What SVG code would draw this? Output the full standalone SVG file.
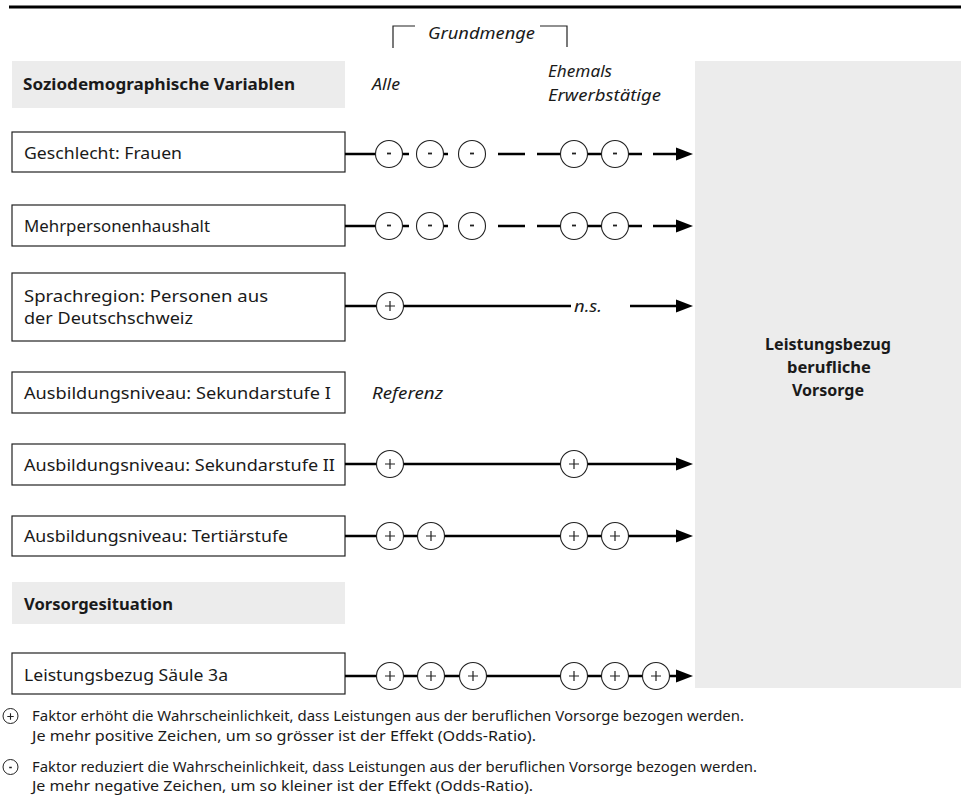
<svg xmlns="http://www.w3.org/2000/svg" width="961" height="796" viewBox="0 0 961 796">
<defs>
<style>
text{font-family:"Noto Sans","Liberation Sans",Arial,sans-serif;fill:#1a1a1a}
.lbl{font-size:17px}
.b{font-size:16.5px;font-weight:bold}
.it{font-size:16.5px;font-style:italic}
.leg{font-size:14.5px}
.box{fill:#fff;stroke:#222;stroke-width:1.2}
.gray{fill:#ececec}
.ln{stroke:#000;stroke-width:2.6;fill:none}
.c{fill:#fff;stroke:#222;stroke-width:1.1}
</style>
<g id="pl"><circle class="c" cx="0" cy="0" r="13.5"/><path d="M-5 0H5M0 -5V5" stroke="#222" stroke-width="1.2"/></g>
<g id="mi"><circle class="c" cx="0" cy="0" r="13.5"/><path d="M-2 -0.5H2" stroke="#222" stroke-width="1.8"/></g>
<g id="ah"><polygon points="-17,-6.5 0,0 -17,6.5" fill="#000"/></g>
</defs>
<rect width="961" height="796" fill="#fff"/>
<line x1="9" y1="7" x2="961" y2="7" stroke="#000" stroke-width="3"/>

<g id="grundmenge">
<path d="M415 26H393V48" fill="none" stroke="#222" stroke-width="1.2"/>
<path d="M540 26H567V47" fill="none" stroke="#222" stroke-width="1.2"/>
<text class="it" x="428" y="39" textLength="107" lengthAdjust="spacingAndGlyphs">Grundmenge</text>
<text class="it" x="372" y="90" textLength="28" lengthAdjust="spacingAndGlyphs">Alle</text>
<text class="it" x="548" y="77" textLength="64" lengthAdjust="spacingAndGlyphs">Ehemals</text>
<text class="it" x="548" y="101" textLength="113" lengthAdjust="spacingAndGlyphs">Erwerbstätige</text>
</g>

<g id="target">
<rect class="gray" x="695" y="61" width="266" height="627"/>
<text class="b" x="828" y="350" text-anchor="middle" textLength="126" lengthAdjust="spacingAndGlyphs">Leistungsbezug</text>
<text class="b" x="829" y="373" text-anchor="middle" textLength="84" lengthAdjust="spacingAndGlyphs">berufliche</text>
<text class="b" x="828" y="396" text-anchor="middle" textLength="72" lengthAdjust="spacingAndGlyphs">Vorsorge</text>
</g>

<g id="hdr1"><rect class="gray" x="12" y="61" width="333" height="47"/><text class="b" x="23" y="90" textLength="272" lengthAdjust="spacingAndGlyphs">Soziodemographische Variablen</text></g>
<g id="n-geschlecht"><rect class="box" x="12" y="132" width="333" height="40"/><text class="lbl" x="24" y="159" textLength="158" lengthAdjust="spacingAndGlyphs">Geschlecht: Frauen</text></g>
<g id="n-mehr"><rect class="box" x="12" y="205" width="333" height="41"/><text class="lbl" x="24" y="232" textLength="186" lengthAdjust="spacingAndGlyphs">Mehrpersonenhaushalt</text></g>
<g id="n-sprach"><rect class="box" x="12" y="273" width="333" height="68"/><text class="lbl" x="24" y="302" textLength="244" lengthAdjust="spacingAndGlyphs">Sprachregion: Personen aus</text><text class="lbl" x="24" y="324" textLength="169" lengthAdjust="spacingAndGlyphs">der Deutschschweiz</text></g>
<g id="n-sek1"><rect class="box" x="12" y="372" width="333" height="41"/><text class="lbl" x="24" y="399" textLength="307" lengthAdjust="spacingAndGlyphs">Ausbildungsniveau: Sekundarstufe I</text><text class="it" x="372" y="399" textLength="71" lengthAdjust="spacingAndGlyphs">Referenz</text></g>
<g id="n-sek2"><rect class="box" x="12" y="444" width="333" height="41"/><text class="lbl" x="24" y="471" textLength="311" lengthAdjust="spacingAndGlyphs">Ausbildungsniveau: Sekundarstufe II</text></g>
<g id="n-tert"><rect class="box" x="12" y="516" width="333" height="40"/><text class="lbl" x="24" y="542" textLength="264" lengthAdjust="spacingAndGlyphs">Ausbildungsniveau: Tertiärstufe</text></g>
<g id="hdr2"><rect class="gray" x="12" y="582" width="333" height="42"/><text class="b" x="24" y="610" textLength="149" lengthAdjust="spacingAndGlyphs">Vorsorgesituation</text></g>
<g id="n-saeule"><rect class="box" x="12" y="653" width="333" height="41"/><text class="lbl" x="24" y="681" textLength="204" lengthAdjust="spacingAndGlyphs">Leistungsbezug Säule 3a</text></g>

<g id="connectors">
<path class="ln" d="M345 154H377M402 154H409M442 154H448M498 154H525M537 154H561M587 154H603M627 154H642M653 154H678"/>
<use href="#ah" x="693" y="154"/>
<use href="#mi" x="389" y="154"/><use href="#mi" x="430" y="154"/><use href="#mi" x="472" y="154"/><use href="#mi" x="574" y="154"/><use href="#mi" x="615" y="154"/>
<path class="ln" d="M345 226H377M402 226H409M442 226H448M498 226H525M537 226H561M587 226H603M627 226H642M653 226H678"/>
<use href="#ah" x="693" y="226"/>
<use href="#mi" x="389" y="226"/><use href="#mi" x="430" y="226"/><use href="#mi" x="472" y="226"/><use href="#mi" x="574" y="226"/><use href="#mi" x="615" y="226"/>
<path class="ln" d="M345 306H378M403 306H571M630 306H678"/>
<use href="#ah" x="693" y="306"/>
<use href="#pl" x="390" y="306"/>
<text class="it" x="574" y="312" textLength="28" lengthAdjust="spacingAndGlyphs">n.s.</text>
<path class="ln" d="M345 464H678"/>
<use href="#ah" x="693" y="464"/>
<use href="#pl" x="390" y="464"/><use href="#pl" x="574" y="464"/>
<path class="ln" d="M345 536H678"/>
<use href="#ah" x="693" y="536"/>
<use href="#pl" x="390" y="536"/><use href="#pl" x="431" y="536"/><use href="#pl" x="574" y="536"/><use href="#pl" x="615" y="536"/>
<path class="ln" d="M345 676H678"/>
<use href="#ah" x="693" y="676"/>
<use href="#pl" x="390" y="676"/><use href="#pl" x="431" y="676"/><use href="#pl" x="473" y="676"/><use href="#pl" x="574" y="676"/><use href="#pl" x="615" y="676"/><use href="#pl" x="656" y="676"/>
</g>

<g id="legend">
<circle cx="10.5" cy="716" r="7.5" fill="#fff" stroke="#222" stroke-width="1"/>
<path d="M7.3 716.5H13.7M10.5 713.3V719.7" stroke="#222" stroke-width="1.1"/>
<text class="leg" x="32" y="721" textLength="712" lengthAdjust="spacingAndGlyphs">Faktor erhöht die Wahrscheinlichkeit, dass Leistungen aus der beruflichen Vorsorge bezogen werden.</text>
<text class="leg" x="32" y="741" textLength="504" lengthAdjust="spacingAndGlyphs">Je mehr positive Zeichen, um so grösser ist der Effekt (Odds-Ratio).</text>
<circle cx="10.5" cy="767" r="7.5" fill="#fff" stroke="#222" stroke-width="1"/>
<path d="M9.2 767.5H11.8" stroke="#222" stroke-width="1.5"/>
<text class="leg" x="32" y="772" textLength="725" lengthAdjust="spacingAndGlyphs">Faktor reduziert die Wahrscheinlichkeit, dass Leistungen aus der beruflichen Vorsorge bezogen werden.</text>
<text class="leg" x="32" y="791" textLength="501" lengthAdjust="spacingAndGlyphs">Je mehr negative Zeichen, um so kleiner ist der Effekt (Odds-Ratio).</text>
</g>
</svg>
